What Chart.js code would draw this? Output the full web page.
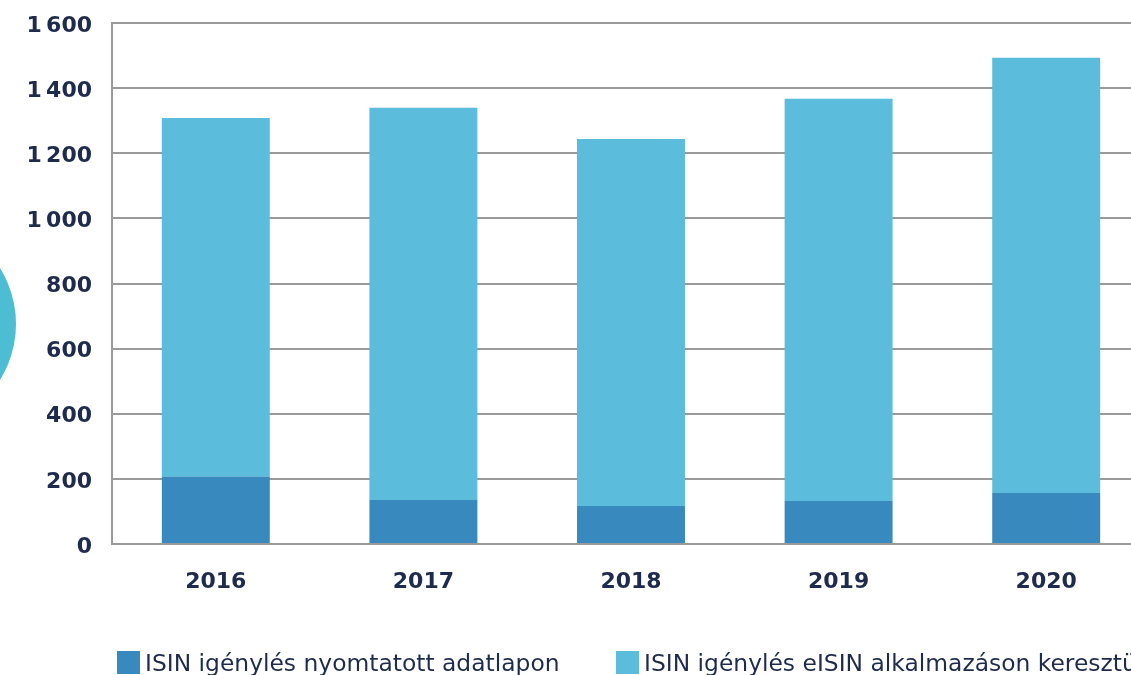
<!DOCTYPE html>
<html>
<head>
<meta charset="utf-8">
<script src="https://cdn.jsdelivr.net/npm/chart.js@4"></script>
<style>
  html, body { margin: 0; padding: 0; width: 1131px; height: 675px; overflow: hidden; background: #ffffff; }
  #wrap { position: absolute; left: 0; top: 0; width: 1160px; height: 675px; }
  #circle { position: absolute; left: -196px; top: 218px; width: 212px; height: 212px; border-radius: 50%; background: #4dbdd3; }
  #chart { position: absolute; left: 0; top: 0; }
  .leg { position: absolute; top: 651px; height: 23px; display: flex; align-items: center; font-family: "DejaVu Sans", sans-serif; font-size: 23.4px; color: #1e2b4d; white-space: nowrap; }
  .leg span.box { display: inline-block; width: 23px; height: 23px; margin-right: 5px; flex: none; }
</style>
</head>
<body>
<div id="circle"></div>
<div id="wrap"><canvas id="chart" width="1160" height="675"></canvas></div>
<div class="leg" style="left:117px"><span class="box" style="background:#3789be"></span><span id="l1"></span></div>
<div class="leg" style="left:616px"><span class="box" style="background:#5cbcdc"></span><span id="l2"></span></div>
<script>
const categories = ['2016', '2017', '2018', '2019', '2020'];
const printedValues = [207, 135, 117, 132, 157];
const electronicValues = [1101, 1205, 1127, 1235, 1336];
const seriesNames = ['ISIN igénylés nyomtatott adatlapon', 'ISIN igénylés eISIN alkalmazáson keresztül'];
const yTicks = [0, 200, 400, 600, 800, 1000, 1200, 1400, 1600];

document.getElementById('l1').textContent = seriesNames[0];
document.getElementById('l2').textContent = seriesNames[1];

const textColor = '#1e2b4d';
const gridColor = '#9a9a9a';

new Chart(document.getElementById('chart'), {
  type: 'bar',
  data: {
    labels: categories,
    datasets: [
      { label: seriesNames[0], data: printedValues, backgroundColor: '#3789be', borderWidth: 0, barPercentage: 1, categoryPercentage: 0.52 },
      { label: seriesNames[1], data: electronicValues, backgroundColor: '#5cbcdc', borderWidth: 0, barPercentage: 1, categoryPercentage: 0.52 }
    ]
  },
  options: {
    responsive: false,
    animation: false,
    layout: { padding: { top: 23, right: 10, left: 0, bottom: 0 } },
    plugins: { legend: { display: false }, tooltip: { enabled: false } },
    scales: {
      x: {
        stacked: true,
        grid: { display: false, drawTicks: false },
        border: { display: true, color: gridColor, width: 2 },
        ticks: { color: textColor, font: { family: 'DejaVu Sans', weight: 'bold', size: 22 }, padding: 25 },
        afterFit: (s) => { s.height = 131; s.paddingLeft = 0; s.paddingRight = 0; }
      },
      y: {
        stacked: true,
        min: 0,
        max: 1600,
        afterBuildTicks: (s) => { s.ticks = yTicks.map(v => ({ value: v })); },
        grid: { color: gridColor, lineWidth: 2, drawTicks: false },
        border: { display: true, color: gridColor, width: 2 },
        ticks: {
          color: textColor,
          font: { family: 'DejaVu Sans', weight: 'bold', size: 22 },
          padding: 20,
          labelOffset: 3,
          callback: (v) => v >= 1000 ? Math.floor(v / 1000) + '\u2009' + String(v % 1000).padStart(3, '0') : String(v)
        },
        afterFit: (s) => { s.width = 112; s.paddingTop = 0; s.paddingBottom = 0; }
      }
    }
  }
});
</script>
</body>
</html>
